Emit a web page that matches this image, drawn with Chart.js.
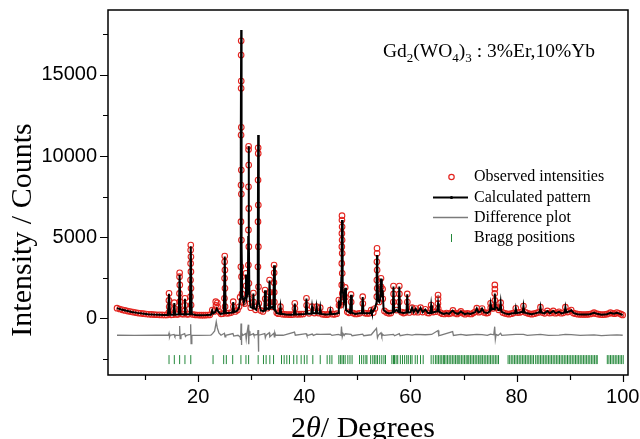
<!DOCTYPE html>
<html>
<head>
<meta charset="utf-8">
<script src="https://cdn.jsdelivr.net/npm/chart.js@4.4.1/dist/chart.umd.min.js"></script>
<style>
  html, body { margin: 0; padding: 0; background: #fff; }
  canvas { display: block; }
</style>
</head>
<body>
<canvas id="rietveld" width="640" height="439"></canvas>
<script>
// axis ticks
const xTicks = [10, 20, 30, 40, 50, 60, 70, 80, 90, 100];
const xLabelled = [20, 40, 60, 80, 100];
const yTicks = [-2500, 0, 2500, 5000, 7500, 10000, 12500, 15000, 17500];
const yLabelled = [0, 5000, 10000, 15000];

// observed intensities [2theta, counts]
const observed = [
  [4.7,620],[5.2,570],[5.7,520],[6.2,480],[6.7,440],[7.2,410],[7.7,380],[8.2,350],[8.7,320],[9.2,300],[9.7,280],[10.2,260],[10.7,245],[11.2,235],[11.7,225],[12.2,215],[12.7,210],[13.2,205],[13.7,200],[14.1,205],
  [14.5,1535],[14.48,1100],[14.53,700],[14.45,350],[14.9,210],[15.2,220],
  [15.5,960],[15.53,600],[15.9,230],[16.2,240],
  [16.5,2800],[16.48,2560],[16.53,2050],[16.47,1530],[16.54,1020],[16.45,550],[16.9,260],[17.2,250],
  [17.5,1230],[17.53,800],[17.46,450],[17.9,240],[18.2,250],
  [18.6,4510],[18.58,4200],[18.63,3790],[18.57,3380],[18.63,2870],[18.56,2350],[18.64,1840],[18.55,1330],[18.66,810],
  [19.0,230],[19.4,210],[19.8,200],[20.2,195],[20.6,190],[21.0,190],[21.4,195],[21.8,200],[22.2,210],[22.65,500],[23.0,420],
  [23.3,1020],[23.35,800],[23.6,950],[23.65,700],[23.9,420],[24.3,270],[24.6,280],
  [25.0,3830],[24.98,3480],[25.03,2970],[24.97,2460],[25.04,1840],[24.95,1230],[25.06,710],
  [25.4,300],[25.8,320],[26.2,350],[26.6,1020],[26.63,700],[27.0,420],[27.4,500],[27.7,700],[27.9,1300],
  [28.1,17100],[28.09,16220],[28.11,14620],[28.09,14170],[28.12,11770],[28.08,11290],[28.12,9130],[28.07,8210],[28.13,7650],[28.06,5950],[28.14,4820],[28.04,3170],[28.16,2560],[28.25,1500],
  [28.5,1000],[28.8,900],[29.0,2770],[29.03,2000],
  [29.5,10600],[29.49,10400],[29.52,9440],[29.48,8100],[29.53,6770],[29.47,5440],[29.54,4410],[29.46,3280],[29.56,2150],[29.62,1200],[29.9,650],
  [30.4,1550],[30.43,1000],[30.8,520],
  [31.3,10510],[31.31,10160],[31.28,8520],[31.33,6980],[31.27,5950],[31.34,4410],[31.26,3170],[31.36,1940],[31.42,900],[31.8,480],[32.2,420],
  [32.6,1740],[32.63,1200],[33.0,620],[33.45,2350],[33.48,1600],[33.42,1000],[33.9,700],
  [34.3,3280],[34.32,2800],[34.28,2200],[34.33,1600],[34.36,1000],[34.8,330],[35.1,280],[35.5,710],[35.53,450],[35.9,250],
  [36.3,240],[36.7,230],[37.1,225],[37.5,220],[37.9,230],[38.2,920],[38.23,600],[38.6,240],[39.0,250],[39.4,250],[39.8,260],
  [40.4,1230],[40.43,800],[40.9,300],[41.45,710],[41.9,320],[42.3,710],[42.65,320],[43.0,650],[43.4,250],[43.8,230],[44.2,220],
  [44.5,240],[44.9,500],[45.3,250],[45.7,240],[46.1,280],[46.5,1120],[46.53,800],[46.8,800],
  [47.1,6320],[47.09,6050],[47.12,5640],[47.08,5230],[47.12,4820],[47.07,4410],[47.13,4000],[47.06,3380],[47.14,2770],[47.05,2050],[47.16,1530],[47.03,1120],
  [47.45,1000],[47.7,1900],[47.73,1300],[48.1,400],[48.4,330],[48.8,1470],[48.83,1000],[49.2,320],[49.6,260],[50.0,270],[50.4,300],
  [51.0,1330],[51.03,900],[51.4,320],[51.8,290],[52.2,300],[52.6,500],[53.0,350],[53.3,600],
  [53.7,4310],[53.71,4000],[53.68,3480],[53.72,2970],[53.67,2350],[53.73,1840],[53.66,1330],
  [54.1,1000],[54.45,2460],[54.47,1940],[54.43,1500],[54.75,1800],[54.78,1200],[55.1,450],[55.5,350],[55.9,300],[56.3,320],
  [56.8,1985],[56.82,1500],[56.78,1000],[57.35,500],[57.9,1985],[57.92,1500],[57.88,1000],[58.3,380],[58.7,320],[59.0,350],
  [59.4,1500],[59.42,1000],[59.8,360],[60.3,650],[60.7,380],[61.0,600],[61.4,370],[61.9,650],[62.3,380],[62.8,550],[63.2,330],[63.5,320],
  [63.9,810],[63.92,550],[64.3,380],[64.7,400],[65.2,1430],[65.21,1200],[65.18,900],[65.23,600],[65.6,350],[66.0,280],[66.4,260],
  [66.8,320],[67.2,270],[67.6,300],[68.0,480],[68.4,310],[68.8,260],[69.2,330],[69.5,420],[69.9,300],[70.3,250],[70.7,300],
  [71.1,270],[71.5,260],[71.9,330],[72.2,400],[72.5,620],[72.9,370],[73.2,420],[73.5,600],[73.9,360],[74.3,320],[74.6,330],
  [75.1,920],[75.13,650],[75.5,600],[75.9,2050],[75.91,1800],[75.88,1530],[75.92,1100],[75.94,700],[76.3,650],[76.6,520],
  [77.0,960],[77.03,650],[77.4,350],[77.8,300],[78.2,270],[78.6,250],[79.0,280],[79.4,320],[79.85,610],[80.2,350],[80.6,360],
  [81.0,400],[81.3,750],[81.7,360],[82.1,300],[82.5,270],[82.9,250],[83.3,280],[83.7,320],[84.1,360],[84.5,680],[84.9,350],
  [85.3,300],[85.8,450],[86.2,320],[86.6,330],[86.9,450],[87.3,310],[87.7,330],[88.0,400],[88.4,310],[88.8,330],[89.2,680],
  [89.6,380],[89.9,420],[90.3,500],[90.7,320],[91.1,280],[91.5,250],[91.9,240],[92.3,230],[92.7,230],[93.1,230],[93.5,240],
  [93.9,260],[94.3,290],[94.6,340],[95.0,280],[95.4,250],[95.8,230],[96.2,220],[96.6,230],[97.0,250],[97.4,290],[97.7,350],
  [98.1,300],[98.5,280],[98.9,350],[99.3,300],[99.7,250],[100.0,200]
];

// calculated pattern [2theta, counts]
const calculated = [
  [4.7,620],[5.5,540],[6.5,460],[7.5,390],[8.5,330],[9.5,285],[10.5,250],[11.5,225],[12.5,210],[13.5,200],[14.3,205],
  [14.5,1500],[14.7,215],[15.35,220],[15.5,940],[15.65,225],[16.33,240],[16.5,2680],[16.67,255],[17.35,235],[17.5,1200],[17.65,240],
  [18.42,255],[18.6,4430],[18.78,250],[19.5,205],[20.5,190],[21.5,195],[22.4,210],[22.65,480],[22.85,300],[23.2,380],[23.5,600],
  [23.8,400],[24.2,270],[24.82,300],[25.0,3800],[25.18,310],[26.0,330],[26.45,350],[26.6,1000],[26.75,380],[27.3,450],[27.7,650],
  [27.9,1200],[28.0,5000],[28.05,11000],[28.1,17760],[28.15,11000],[28.2,4500],[28.3,1400],[28.6,950],[28.85,1300],[29.0,2700],
  [29.15,1300],[29.35,1600],[29.43,5000],[29.5,10600],[29.57,5000],[29.65,1500],[29.85,700],[30.28,620],[30.4,1520],[30.52,620],
  [30.95,520],[31.15,900],[31.23,4000],[31.3,11290],[31.37,4000],[31.45,1000],[31.8,480],[32.3,430],[32.45,460],[32.6,1720],
  [32.75,520],[33.0,600],[33.3,560],[33.45,2330],[33.6,620],[33.95,690],[34.15,600],[34.3,3260],[34.45,520],[34.8,320],[35.35,270],
  [35.5,700],[35.65,270],[36.5,235],[37.5,220],[38.05,230],[38.2,900],[38.35,235],[39.4,250],[40.25,265],[40.4,1210],[40.55,285],
  [41.3,280],[41.45,700],[41.6,300],[42.15,300],[42.3,700],[42.45,300],[42.85,285],[43.0,640],[43.15,265],[44.0,225],[44.75,240],
  [44.9,490],[45.05,250],[46.0,270],[46.35,320],[46.5,1100],[46.65,700],[46.85,850],[46.98,2500],[47.05,4500],[47.1,6050],
  [47.17,4000],[47.27,1800],[47.45,1000],[47.6,1300],[47.7,1880],[47.85,500],[48.6,340],[48.8,1450],[48.95,340],[49.6,260],
  [50.4,300],[50.85,310],[51.0,1310],[51.15,310],[52.2,300],[52.45,320],[52.6,500],[52.75,320],[53.3,600],[53.55,900],[53.63,2500],
  [53.7,3900],[53.77,2500],[53.9,1100],[54.15,1000],[54.3,1200],[54.45,2440],[54.6,1300],[54.75,1750],[54.95,500],[55.5,350],
  [56.0,300],[56.65,350],[56.8,1960],[56.95,400],[57.35,500],[57.75,400],[57.9,1960],[58.05,360],[58.7,320],[59.25,350],[59.4,1480],
  [59.55,350],[60.0,360],[60.3,640],[60.6,370],[61.0,590],[61.4,360],[61.9,640],[62.3,370],[62.8,540],[63.3,320],[63.75,320],
  [63.9,800],[64.05,330],[64.5,380],[65.05,420],[65.2,900],[65.35,420],[65.8,320],[66.3,260],[66.8,320],[67.3,270],[67.95,470],
  [68.5,300],[69.0,270],[69.5,410],[70.2,250],[70.8,300],[71.3,260],[71.8,320],[72.2,380],[72.5,600],[72.8,370],[73.2,410],
  [73.5,590],[73.9,360],[74.5,320],[74.95,420],[75.1,900],[75.3,550],[75.5,590],[75.75,550],[75.9,1520],[76.05,700],[76.4,620],
  [76.6,500],[76.85,520],[77.0,950],[77.15,400],[77.8,300],[78.5,250],[79.2,300],[79.7,310],[79.85,600],[80.0,320],[80.6,350],
  [81.0,390],[81.15,370],[81.3,740],[81.45,360],[82.0,300],[82.8,250],[83.5,300],[84.1,350],[84.35,360],[84.5,670],[84.65,350],
  [85.2,300],[85.8,440],[86.3,310],[86.9,440],[87.4,310],[88.0,390],[88.5,300],[89.05,350],[89.2,670],[89.35,370],[89.9,410],
  [90.3,490],[90.8,310],[91.5,250],[92.3,230],[93.0,230],[93.8,250],[94.6,330],[95.2,270],[96.0,220],[97.0,250],[97.7,340],
  [98.3,280],[98.9,340],[99.5,270],[100.0,200]
];

// difference plot (offset) [2theta, counts]
const difference = [
  [4.7,-1050],[8,-1060],[12,-1050],[14.4,-1050],[14.5,-930],[14.6,-1150],[14.7,-1050],[15.45,-1000],[15.6,-1120],[15.8,-1050],
  [16.4,-1060],[16.5,-480],[16.6,-1250],[16.75,-1050],[17.45,-950],[17.6,-1120],[17.8,-1050],[18.5,-1000],[18.58,-370],[18.66,-1560],
  [18.8,-1050],[20,-1060],[22.4,-1040],[22.7,-950],[23.1,-780],[23.4,-220],[23.6,-600],[23.9,-900],[24.3,-1050],[24.95,-930],
  [25.05,-1150],[25.2,-1050],[26.55,-950],[26.7,-1100],[27.5,-1050],[27.9,-1150],[28.0,-1340],[28.07,-320],[28.13,-1650],[28.22,-900],
  [28.4,-1050],[28.95,-950],[29.05,-1300],[29.2,-900],[29.45,-400],[29.52,-1600],[29.6,-800],[29.75,-1050],[30.4,-950],[30.5,-1050],
  [31.2,-1000],[31.27,-730],[31.33,-2060],[31.43,-1050],[32.55,-950],[32.65,-1200],[32.8,-1050],[33.4,-900],[33.5,-1150],[34.25,-930],
  [34.35,-1150],[34.45,-900],[34.6,-1050],[36,-1050],[38.15,-850],[38.3,-1050],[40.35,-950],[40.5,-1080],[41.5,-980],[41.7,-1060],
  [42.3,-980],[43.0,-1000],[44.9,-980],[45.2,-1060],[46.4,-1000],[46.9,-1060],[47.0,-520],[47.15,-1140],[47.3,-950],[47.5,-1060],
  [47.7,-960],[48.8,-1000],[49,-1080],[51.0,-980],[51.2,-1080],[52.6,-1020],[53.6,-620],[53.78,-1200],[53.95,-1050],[54.45,-900],
  [54.6,-1120],[54.8,-1000],[55,-1060],[56.8,-1000],[57.0,-1080],[57.9,-950],[58.05,-1080],[59.4,-1000],[60.3,-1040],[61.0,-1000],
  [62.8,-1020],[64,-1000],[65.2,-760],[65.35,-1080],[65.6,-1050],[67.95,-830],[68.1,-1060],[69.5,-1000],[70.5,-1050],[72.5,-1000],
  [73.5,-1010],[74.5,-1060],[75.1,-980],[75.7,-1020],[75.88,-520],[76.0,-1300],[76.15,-1000],[76.5,-1060],[77.0,-930],[77.2,-1060],
  [79.85,-1000],[81.3,-990],[82,-1060],[84.5,-1000],[86,-1060],[88,-1040],[89.2,-1000],[90.3,-1010],[92,-1060],[94.6,-1030],
  [96,-1070],[97.7,-1040],[98.9,-1030],[100,-1050]
];

// Bragg reflection positions (2theta)
const braggPositions = [
  14.5, 15.5, 16.5, 17.5, 18.6, 22.8, 24.8, 25.3, 26.5, 28.05, 29.0, 29.5, 31.3, 32.3, 32.8, 33.5, 34.2, 35.7, 36.2, 36.7,
  37.2, 38.0, 38.6, 39.4, 40.0, 40.5, 41.6, 43.0, 44.3, 44.8, 45.2, 46.5, 46.8, 47.1, 47.4, 47.7, 48.2, 48.6, 49.0,
  50.4, 50.8, 51.2, 51.6, 51.8, 52.5, 52.9, 53.2, 53.5, 53.8, 54.2, 54.6, 55.0, 55.3, 56.5, 56.8, 57.0, 57.3, 57.6, 58.1,
  58.5, 58.9, 59.3, 59.6, 60.0, 60.3, 60.9, 61.3, 61.9, 62.4, 63.9, 64.3, 64.7, 65.0, 65.3, 65.6, 65.9, 66.2, 66.4, 66.7,
  67.0, 67.3, 67.6, 67.9, 68.2, 68.5, 68.8, 69.0, 69.3, 69.6, 69.9, 70.2, 70.5, 70.8, 71.0, 71.3, 71.6, 71.9, 72.2, 72.5,
  72.8, 73.1, 73.3, 73.6, 73.9, 74.2, 74.5, 74.8, 75.1, 75.4, 75.7, 76.0, 76.3, 76.6, 78.4, 78.7, 79.0, 79.3, 79.6, 79.9,
  80.2, 80.5, 80.8, 81.1, 81.4, 81.7, 82.0, 82.3, 82.6, 82.9, 83.2, 83.6, 83.9, 84.2, 84.5, 84.8, 85.1, 85.4, 85.7, 86.0,
  86.3, 86.6, 86.9, 87.2, 87.5, 87.8, 88.1, 88.4, 88.7, 89.0, 89.3, 89.6, 89.9, 90.2, 90.5, 90.8, 91.1, 91.4, 91.7, 92.0,
  92.3, 92.6, 92.9, 93.2, 93.5, 93.8, 94.1, 94.4, 94.7, 95.0, 95.2, 97.1, 97.4, 97.7, 98.0, 98.3, 98.6, 98.9, 99.2, 99.5,
  99.8, 100.1
];
const braggLevel = -2550;

const legendItems = ['Observed intensities', 'Calculated pattern', 'Difference plot', 'Bragg positions'];
const formulaParts = [['Gd', 0], ['2', 1], ['(WO', 0], ['4', 1], [')', 0], ['3', 1], [' : 3%Er,10%Yb', 0]];

const RED = '#e3241f', GREEN = '#23883a', GREY = '#7b7b7b';
const SERIF = '"Liberation Serif", "Times New Roman", serif';
const SANS = '"Liberation Sans", Arial, sans-serif';

const toXY = arr => arr.map(p => ({ x: p[0], y: p[1] }));

const decorations = {
  id: 'decorations',
  afterDraw(chart) {
    const ctx = chart.ctx;
    const a = chart.chartArea;
    const xs = chart.scales.x, ys = chart.scales.y;
    ctx.save();

    // frame
    ctx.strokeStyle = '#000';
    ctx.lineWidth = 1.5;
    ctx.strokeRect(a.left, a.top, a.right - a.left, a.bottom - a.top);

    // ticks, outward
    ctx.lineWidth = 1.2;
    ctx.beginPath();
    xTicks.forEach(v => {
      const px = Math.round(xs.getPixelForValue(v)) + 0.5;
      const len = xLabelled.includes(v) ? 7 : 5;
      ctx.moveTo(px, a.bottom);
      ctx.lineTo(px, a.bottom + len);
    });
    yTicks.forEach(v => {
      const py = Math.round(ys.getPixelForValue(v)) + 0.5;
      const len = yLabelled.includes(v) ? 8 : 5;
      ctx.moveTo(a.left, py);
      ctx.lineTo(a.left - len, py);
    });
    ctx.stroke();

    // axis titles
    ctx.fillStyle = '#000';
    ctx.font = '30px ' + SERIF;
    ctx.textBaseline = 'alphabetic';
    ctx.save();
    ctx.translate(31, 230);
    ctx.rotate(-Math.PI / 2);
    ctx.textAlign = 'center';
    ctx.fillText('Intensity / Counts', 0, 0);
    ctx.restore();

    ctx.textAlign = 'left';
    const parts = [['2', ''], ['\u03B8', 'italic '], ['/ Degrees', '']];
    let total = 0;
    parts.forEach(([t, st]) => { ctx.font = st + '30px ' + SERIF; total += ctx.measureText(t).width; });
    let tx = 363 - total / 2;
    parts.forEach(([t, st]) => {
      ctx.font = st + '30px ' + SERIF;
      ctx.fillText(t, tx, 437);
      tx += ctx.measureText(t).width;
    });

    // formula label
    let fx = 383;
    formulaParts.forEach(([t, sub]) => {
      ctx.font = (sub ? '13px ' : '19.5px ') + SERIF;
      ctx.fillText(t, fx, 57 + (sub ? 5 : 0));
      fx += ctx.measureText(t).width;
    });

    // legend
    const rows = [177, 197.5, 217.5, 238];
    const sx = 433, ex = 468, cx = 451.5;
    ctx.font = '16px ' + SERIF;
    ctx.textBaseline = 'middle';
    legendItems.forEach((t, i) => ctx.fillText(t, 474, rows[i]));

    ctx.strokeStyle = RED;
    ctx.lineWidth = 1.2;
    ctx.beginPath();
    ctx.arc(cx, rows[0], 2.7, 0, Math.PI * 2);
    ctx.stroke();

    ctx.strokeStyle = '#000';
    ctx.lineWidth = 1.8;
    ctx.beginPath();
    ctx.moveTo(sx, rows[1]); ctx.lineTo(ex, rows[1]);
    ctx.stroke();
    ctx.fillStyle = '#000';
    ctx.beginPath();
    ctx.arc(cx, rows[1], 1.6, 0, Math.PI * 2);
    ctx.fill();

    ctx.strokeStyle = GREY;
    ctx.lineWidth = 1.3;
    ctx.beginPath();
    ctx.moveTo(sx, rows[2]); ctx.lineTo(ex, rows[2]);
    ctx.stroke();

    ctx.strokeStyle = GREEN;
    ctx.lineWidth = 1;
    ctx.beginPath();
    ctx.moveTo(cx, rows[3] - 4); ctx.lineTo(cx, rows[3] + 4);
    ctx.stroke();

    ctx.restore();
  }
};

const ctx = document.getElementById('rietveld').getContext('2d');
new Chart(ctx, {
  type: 'scatter',
  data: {
    datasets: [
      {
        label: 'Calculated pattern',
        data: toXY(calculated),
        showLine: true,
        borderColor: '#000',
        borderWidth: 2,
        pointRadius: 0,
        tension: 0,
        order: 1
      },
      {
        label: 'Observed intensities',
        data: toXY(observed),
        showLine: false,
        pointStyle: 'circle',
        pointRadius: 2.8,
        pointBorderWidth: 1.1,
        pointBorderColor: RED,
        pointBackgroundColor: 'rgba(255,255,255,0)',
        order: 2
      },
      {
        label: 'Difference plot',
        data: toXY(difference),
        showLine: true,
        borderColor: GREY,
        borderWidth: 1.3,
        pointRadius: 0,
        tension: 0,
        order: 3
      },
      {
        label: 'Bragg positions',
        data: braggPositions.map(v => ({ x: v, y: braggLevel })),
        showLine: false,
        pointStyle: 'line',
        rotation: 90,
        pointRadius: 4.5,
        pointBorderWidth: 1,
        pointBorderColor: GREEN,
        order: 4
      }
    ]
  },
  options: {
    responsive: false,
    animation: false,
    devicePixelRatio: 1,
    layout: { padding: { top: 10, right: 12, left: 0, bottom: 0 } },
    plugins: {
      legend: { display: false },
      tooltip: { enabled: false }
    },
    scales: {
      x: {
        type: 'linear',
        min: 3,
        max: 101,
        grid: { display: false, drawTicks: false },
        border: { display: false },
        afterBuildTicks: s => { s.ticks = xTicks.map(v => ({ value: v })); },
        afterFit: s => { s.height = 64; s.paddingLeft = 0; s.paddingRight = 0; },
        ticks: {
          padding: 10,
          maxRotation: 0,
          autoSkip: false,
          color: '#000',
          font: { family: SANS, size: 20 },
          callback: v => (xLabelled.includes(v) ? String(v) : '')
        }
      },
      y: {
        type: 'linear',
        min: -3500,
        max: 19000,
        grid: { display: false, drawTicks: false },
        border: { display: false },
        afterBuildTicks: s => { s.ticks = yTicks.map(v => ({ value: v })); },
        afterFit: s => { s.width = 108; s.paddingTop = 0; s.paddingBottom = 0; },
        ticks: {
          padding: 11,
          autoSkip: false,
          color: '#000',
          font: { family: SANS, size: 20 },
          callback: v => (yLabelled.includes(v) ? String(v) : '')
        }
      }
    }
  },
  plugins: [decorations]
});
</script>
</body>
</html>
